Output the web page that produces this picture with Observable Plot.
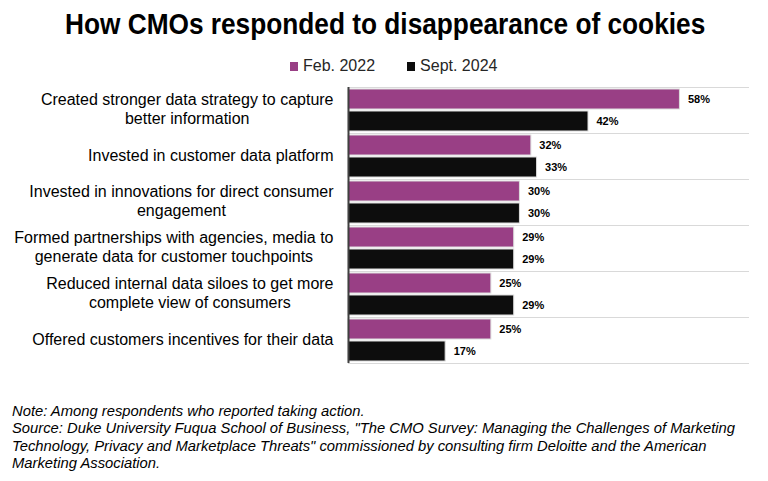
<!DOCTYPE html>
<html><head><meta charset="utf-8">
<script src="https://cdn.jsdelivr.net/npm/d3@7"></script>
<script src="https://cdn.jsdelivr.net/npm/@observablehq/plot@0.6"></script>
<style>
body{margin:0;background:#fff;width:768px;height:481px;position:relative;overflow:hidden;font-family:"Liberation Sans",Arial,sans-serif;}
#title{position:absolute;left:65px;top:8px;transform-origin:0 0;transform:scaleX(0.905);font-family:"Liberation Sans Narrow","Arial Narrow","Liberation Sans",sans-serif;font-weight:bold;font-size:29px;line-height:32px;color:#000;white-space:nowrap;}
#legend{position:absolute;left:290px;top:57px;display:flex;align-items:center;font-family:"Liberation Sans",Arial,sans-serif;font-size:16px;line-height:18px;color:#262626;}
#legend .sw{width:8px;height:9px;display:inline-block;margin-right:5px;}
#legend .item{display:flex;align-items:center;margin-right:32px;}
#chart{position:absolute;left:0;top:80px;line-height:0;}
#note{position:absolute;left:12px;top:402px;transform-origin:0 0;transform:scaleX(0.985);font-family:"Liberation Sans",Arial,sans-serif;font-style:italic;font-size:15px;line-height:17.3px;color:#000;white-space:nowrap;}
</style>
</head><body>
<div id="title">How CMOs responded to disappearance of cookies</div>
<div id="legend"></div>
<div id="chart"></div>
<div id="note">Note: Among respondents who reported taking action.<br>Source: Duke University Fuqua School of Business, "The CMO Survey: Managing the Challenges of Marketing<br>Technology, Privacy and Marketplace Threats" commissioned by consulting firm Deloitte and the American<br>Marketing Association.</div>
<script>
const categories = [
  "Created stronger data strategy to capture better information",
  "Invested in customer data platform",
  "Invested in innovations for direct consumer engagement",
  "Formed partnerships with agencies, media to generate data for customer touchpoints",
  "Reduced internal data siloes to get more complete view of consumers",
  "Offered customers incentives for their data"
];
const tickLabels = [
  "Created stronger data strategy to capture\nbetter information",
  "Invested in customer data platform",
  "Invested in innovations for direct consumer\nengagement",
  "Formed partnerships with agencies, media to\ngenerate data for customer touchpoints",
  "Reduced internal data siloes to get more\ncomplete view of consumers",
  "Offered customers incentives for their data"
];
const series = ["Feb. 2022", "Sept. 2024"];
const feb2022 = [58, 32, 30, 29, 25, 25];
const sept2024 = [42, 33, 30, 29, 29, 17];
const colors = ["#993f85", "#0d0d0d"];

const data = categories.flatMap((c, i) => [
  {category: c, series: series[0], value: feb2022[i]},
  {category: c, series: series[1], value: sept2024[i]}
]);

// legend
const legend = document.getElementById("legend");
series.forEach((s, i) => {
  const it = document.createElement("span");
  it.className = "item";
  it.innerHTML = `<span class="sw" style="background:${colors[i]}"></span><span>${s}</span>`;
  legend.appendChild(it);
});

// measure label widths so multi-line labels are centred within a block right-aligned to the axis
const labelFont = 16;
const ctx = document.createElement("canvas").getContext("2d");
ctx.font = `${labelFont}px 'Liberation Sans'`;
const labelWidth = t => Math.max(...t.split("\n").map(l => ctx.measureText(l).width));
const gap = 15;

const chart = Plot.plot({
  width: 768,
  height: 290,
  marginLeft: 348,
  marginRight: 20,
  marginTop: 5,
  marginBottom: 5,
  style: {fontFamily: "'Liberation Sans', Arial, sans-serif", fontSize: "14px", color: "#000", background: "transparent", overflow: "visible"},
  x: {domain: [0, 70], axis: null},
  y: {domain: series, axis: null, paddingInner: 0.08, paddingOuter: 0.08},
  fy: {domain: categories, padding: 0, axis: null, label: null},
  color: {domain: series, range: colors},
  marks: [
    Plot.frame({anchor: "top", stroke: "#d9d9d9"}),
    Plot.frame({anchor: "bottom", stroke: "#d9d9d9"}),
    Plot.barX(data, {x: "value", y: "series", fy: "category", fill: "series", stroke: "#dcdcdc", strokeWidth: 1}),
    Plot.ruleX([0], {stroke: "#404040", strokeWidth: 2}),
    Plot.text(data, {x: "value", y: "series", fy: "category", text: d => d.value + "%", dx: 8, textAnchor: "start", fontWeight: "bold", fontSize: 11, fill: "#000"}),
    ...categories.map((c, i) => Plot.text([c], {
      fy: d => d,
      text: () => tickLabels[i],
      frameAnchor: "left",
      textAnchor: "middle",
      dx: -(gap + labelWidth(tickLabels[i]) / 2),
      dy: -2,
      lineHeight: 1.19,
      fontSize: labelFont,
      fill: "#000"
    }))
  ]
});
document.getElementById("chart").appendChild(chart);
</script>
</body></html>
